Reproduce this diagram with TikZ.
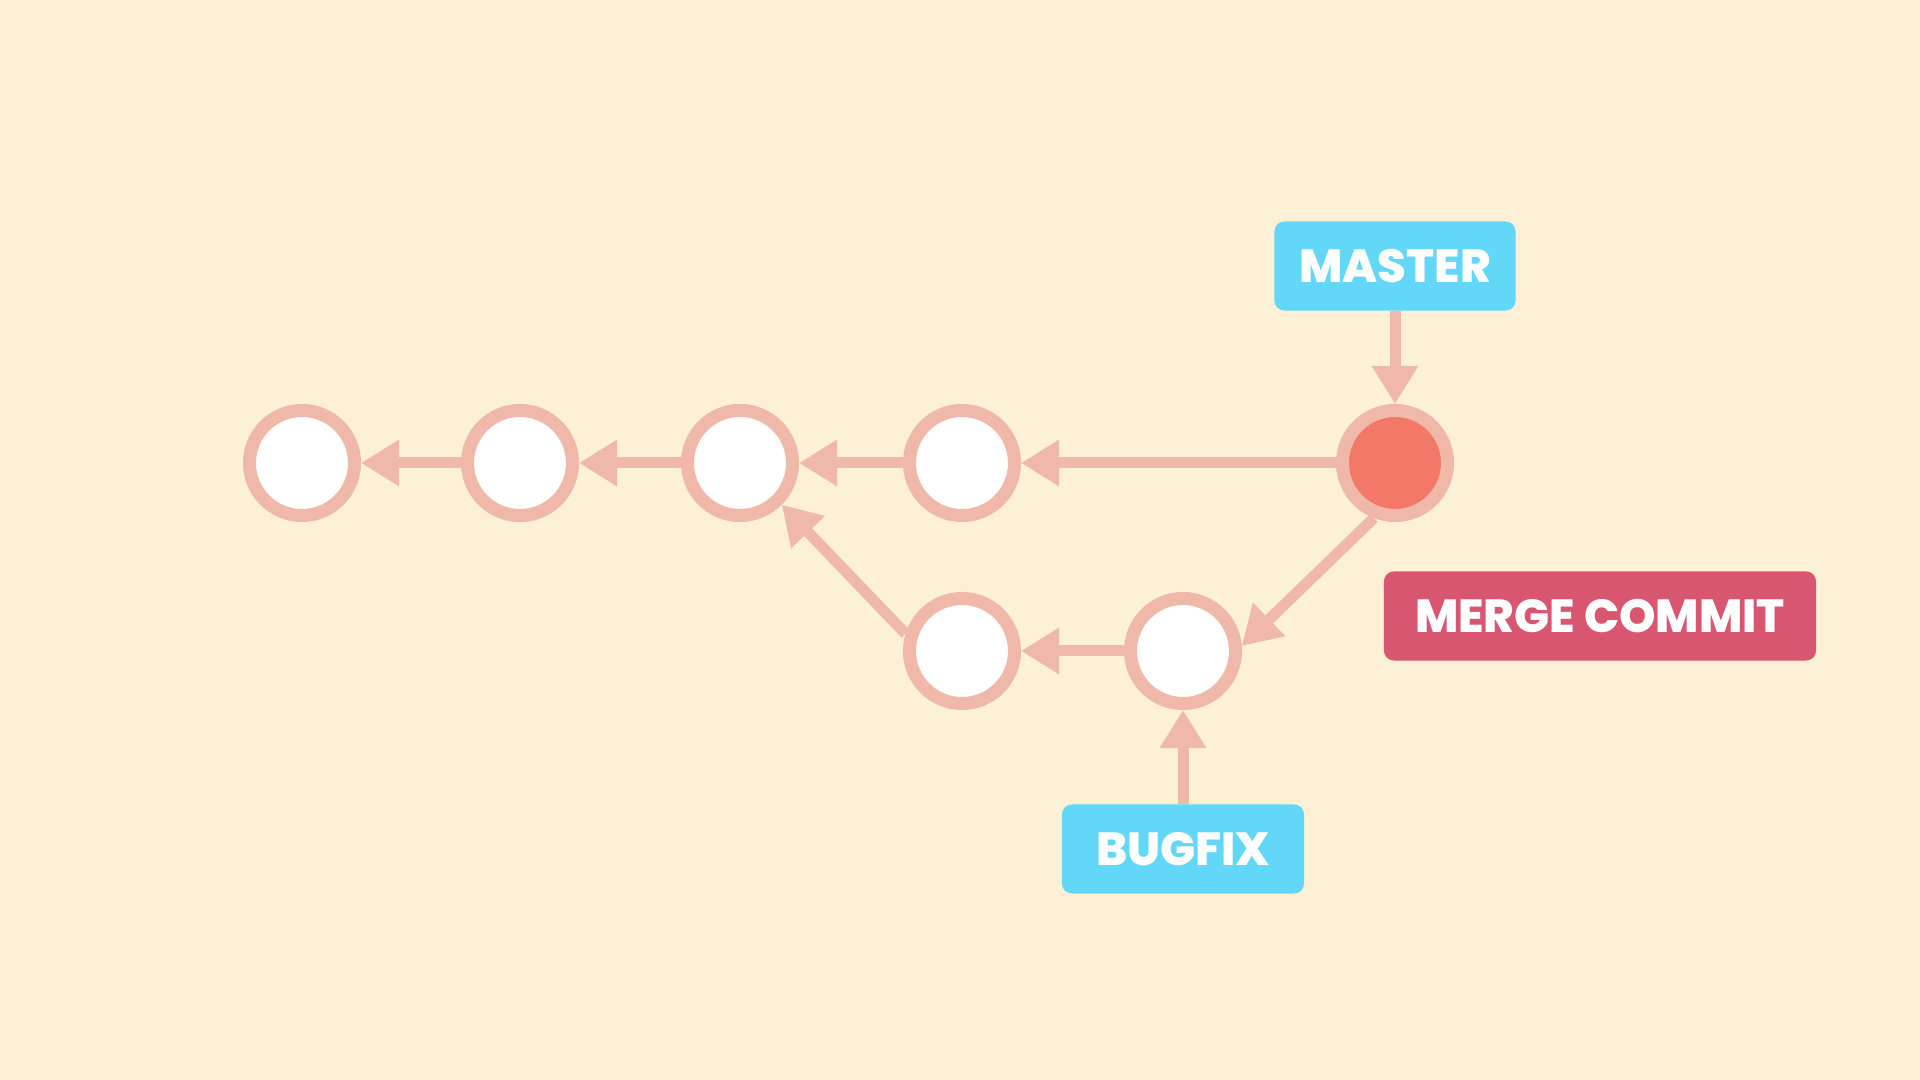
\documentclass[tikz,border=0pt]{standalone}
\usepackage{fontspec}
\IfFontExistsTF{Poppins ExtraBold}{\newfontfamily\poppins{Poppins ExtraBold}}{\newfontfamily\poppins{Poppins Bold}}
\usepackage{tikz}
\usetikzlibrary{arrows.meta}
\definecolor{bg}{HTML}{FCF0D6}
\definecolor{ring}{HTML}{EFB8A9}
\definecolor{headfill}{HTML}{F37868}
\definecolor{tagblue}{HTML}{63D7F7}
\definecolor{tagred}{HTML}{D95670}

\begin{document}
\begin{tikzpicture}[x=0.01cm, y=-0.01cm,
		commit/.style={circle, draw=ring, line width=1.3mm, fill=white, minimum size=10.5mm, inner sep=0pt},
		edge/.style={draw=ring, line width=1.1mm, -{Triangle[length=3.8mm, width=4.4mm]}},
		tag/.style={rectangle, rounded corners=1mm, text=white, inner sep=0pt, minimum height=8.9mm,
			font=\poppins\fontsize{13.2}{16}\selectfont}]
		\fill[bg] (0,0) rectangle (1920,1080);
		\useasboundingbox (0,0) rectangle (1920,1080);
		\def\ya{463}\def\yb{651}
		% ---- commits ----
		\node[commit] (c1) at (302,\ya) {};
		\node[commit] (c2) at (520,\ya) {};
		\node[commit] (c3) at (740,\ya) {};
		\node[commit] (c4) at (962,\ya) {};
		\node[commit, fill=headfill] (merge) at (1395,\ya) {};
		\node[commit] (c6) at (962,\yb) {};
		\node[commit] (c7) at (1183,\yb) {};
		% ---- labels ----
		\node[tag, fill=tagblue, minimum width=24.1mm] (master) at (1395,266) {MASTER};
		\node[tag, fill=tagred, minimum width=43.2mm] (mergetag) at (1600,616) {MERGE COMMIT};
		\node[tag, fill=tagblue, minimum width=24.2mm] (bugfix) at (1183,849) {BUGFIX};
		% ---- parent links ----
		\draw[edge] (c2) -- (c1);
		\draw[edge] (c3) -- (c2);
		\draw[edge] (c4) -- (c3);
		\draw[edge] (merge) -- (c4);
		\draw[edge] (c7) -- (c6);
		\draw[edge] (c6.163) -- (c3.-45);
		\draw[edge] (merge.249) -- (c7.5);
		\draw[edge] (master) -- (merge);
		\draw[edge] (bugfix) -- (c7);
	\end{tikzpicture}
\end{document}
